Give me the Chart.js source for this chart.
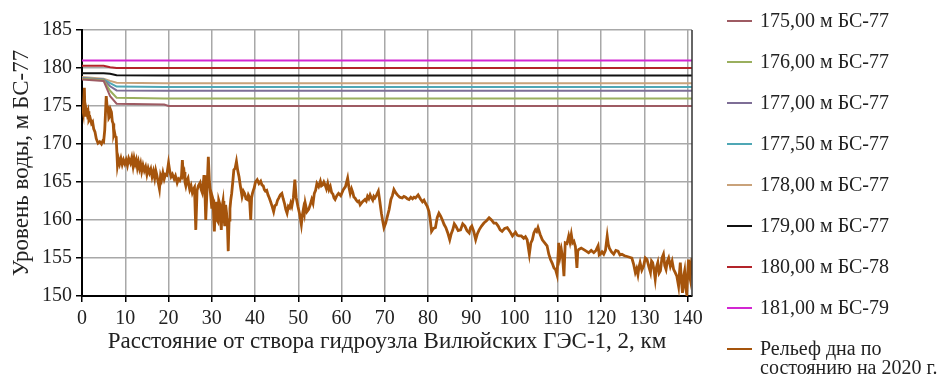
<!DOCTYPE html>
<html><head><meta charset="utf-8">
<script src="https://cdn.jsdelivr.net/npm/chart.js@4.4.1/dist/chart.umd.min.js"></script>
<style>
html,body{margin:0;padding:0;background:#fff;}
#wrap{position:relative;width:944px;height:376px;overflow:hidden;}
#c{position:absolute;left:0;top:0;}
.lg{position:absolute;font-family:"Liberation Serif","Times New Roman",serif;font-size:20px;color:#222;white-space:pre;line-height:18.5px;}
.mk{position:absolute;height:2px;width:25px;}
</style></head><body>
<div id="wrap"><canvas id="c" width="944" height="376"></canvas><div id="legend"></div></div>
<script>
// ---- data ----
const waterKm   = [0, 5, 6.5, 8, 19, 20, 141];
const level175  = [178.5, 178.3, 176.3, 175.3, 175.2, 175.0, 175.0];
const level176  = [178.6, 178.4, 177.0, 176.1, 176.0, 176.0, 176.0];
const level177  = [178.65, 178.45, 177.6, 177.05, 177.0, 177.0, 177.0];
const level1775 = [178.7, 178.5, 178.0, 177.55, 177.5, 177.5, 177.5];
const level178  = [178.8, 178.6, 178.3, 178.05, 178.0, 178.0, 178.0];
const level179  = [179.3, 179.3, 179.25, 179.05, 179.0, 179.0, 179.0];
const level180  = [180.3, 180.3, 180.1, 180.0, 180.0, 180.0, 180.0];
const level181  = [181.0, 181.0, 181.0, 181.0, 181.0, 181.0, 181.0];

const profileKm = [0,0.3,0.55,0.7,0.95,1.2,1.4,1.6,1.9,2.2,2.45,2.7,3.0,3.3,3.7,4.1,4.5,4.8,5.0,5.25,5.6,5.8,6.0,6.2,6.4,6.6,6.8,7.0,7.2,7.35,7.5,7.7,7.9,
8.2,8.45,8.7,9.0,9.3,9.6,9.9,10.2,10.5,10.8,11.2,11.5,11.8,12.05,12.3,12.55,12.8,13.05,13.3,13.55,13.8,14.1,14.4,14.7,15.0,15.3,15.6,15.9,16.2,16.5,16.8,17.05,17.3,17.6,17.9,18.15,18.4,18.7,19.0,19.3,19.6,
20.0,20.3,20.6,20.9,21.3,21.6,22.0,22.3,22.6,23.0,23.2,23.4,23.6,23.8,24.0,24.25,24.5,24.7,24.9,25.2,25.5,25.8,26.0,26.3,26.6,26.9,27.3,27.55,27.8,28.0,28.2,28.4,28.6,28.9,29.2,29.45,29.7,
30.0,30.15,30.3,30.45,30.6,30.8,31.0,31.2,31.4,31.6,31.8,32.0,32.2,32.4,32.6,32.8,33.0,33.2,33.4,33.6,33.8,34.0,34.2,34.4,34.6,34.85,35.1,35.4,35.7,36.0,36.3,36.6,37.0,37.3,37.6,37.9,38.2,38.45,38.7,39.0,39.2,39.4,39.6,39.8,
40.1,40.5,40.9,41.3,41.6,41.9,42.15,42.4,42.7,43.0,43.3,43.6,43.95,44.3,44.6,44.9,45.2,45.5,45.85,46.2,46.5,46.8,47.1,47.4,47.7,48.0,48.25,48.5,48.85,49.2,49.5,49.9,
50.3,50.7,50.95,51.2,51.4,51.6,52.0,52.4,52.75,53.1,53.4,53.7,54.0,54.3,54.7,55.1,55.35,55.6,55.9,56.2,56.5,56.8,57.1,57.4,57.7,58.0,58.25,58.5,58.9,59.3,59.8,
60.4,60.9,61.4,61.7,62.0,62.3,62.6,62.85,63.1,63.4,63.7,64.0,64.3,64.85,65.4,65.7,66.0,66.3,66.6,66.9,67.2,67.45,67.7,68.1,68.5,68.85,69.2,69.5,69.8,
70.2,70.6,71.0,71.4,71.75,72.1,72.5,72.9,73.45,74.0,74.4,74.8,75.2,75.6,76.0,76.4,76.75,77.1,77.4,77.7,78.2,78.7,79.05,79.4,79.8,
80.2,80.5,80.8,81.25,81.7,82.1,82.5,82.9,83.3,83.7,84.1,84.55,85.0,85.35,85.7,86.05,86.4,86.95,87.5,88.0,88.5,89.0,89.5,89.8,
90.1,90.55,91.0,91.4,91.8,92.35,92.9,93.5,94.1,94.65,95.2,95.7,96.2,96.65,97.1,97.7,98.3,98.9,99.5,
100.2,100.6,101.0,101.55,102.1,102.5,102.9,103.4,103.75,104.1,104.45,104.8,105.1,105.4,105.9,106.4,106.95,107.5,107.9,108.3,108.7,109.1,109.45,109.8,
110.2,110.5,110.8,111.1,111.4,111.7,112.1,112.5,112.8,113.1,113.4,113.7,114.05,114.4,114.6,114.8,115.4,116.0,116.55,117.1,117.7,118.3,118.8,119.3,119.55,119.8,
120.2,120.6,121.0,121.4,121.65,121.9,122.4,122.9,123.4,123.9,124.35,124.8,125.4,126.0,126.55,127.1,127.5,127.9,128.2,128.5,128.75,129.0,129.4,129.8,
130.2,130.6,131.0,131.4,131.65,131.9,132.2,132.5,132.8,133.1,133.4,133.7,134.05,134.4,134.7,135.0,135.3,135.6,136.0,136.4,136.75,137.1,137.5,137.9,138.1,138.3,138.55,138.8,139.05,139.3,139.55,139.8,
140.0,140.2,140.4,140.6,140.8,141.0];
const profileLevel = [175.2,174.2,177.4,173.6,174.6,173.9,174.3,173.1,173.4,172.7,172.9,172.0,171.6,170.7,170.1,170.3,170.0,170.4,170.3,171.8,176.3,175.0,174.9,173.4,173.6,174.5,174.2,173.0,172.7,171.3,171.6,171.0,170.9,
167.2,168.0,167.4,168.1,167.3,167.9,167.4,167.9,167.2,168.1,167.5,168.2,167.1,168.1,167.4,167.9,166.9,167.6,166.8,167.4,166.4,167.2,166.5,167.0,166.0,166.8,166.2,166.7,165.7,166.4,165.5,166.5,165.9,165.0,164.1,165.8,165.3,166.2,165.4,166.0,165.9,
167.5,166.4,165.7,166.0,165.4,165.8,164.9,165.4,165.2,165.8,167.9,166.0,166.3,165.0,164.5,165.2,165.5,164.6,164.0,164.5,163.6,164.1,164.3,158.7,163.9,164.5,164.9,164.0,163.6,164.6,165.9,164.0,160.0,164.0,168.3,165.0,163.5,
161.5,163.0,162.7,160.2,158.5,161.5,162.4,160.0,159.8,162.6,162.2,160.3,158.7,161.8,162.5,160.4,159.2,162.0,161.0,159.5,155.9,160.0,161.5,162.7,163.5,165.0,166.6,166.8,167.7,166.5,165.7,164.5,163.1,163.8,163.5,162.8,162.7,163.3,163.0,160.0,162.9,163.5,163.9,164.2,
165.0,165.3,164.8,165.1,164.6,164.5,164.0,163.8,163.9,163.3,162.9,162.4,161.8,161.1,161.9,162.0,162.6,162.9,163.3,163.5,162.8,162.2,161.4,160.9,161.8,161.6,162.2,161.8,162.9,165.3,163.0,161.8,
160.8,159.4,160.7,161.5,160.9,162.2,161.1,161.4,162.0,162.7,162.2,163.5,163.9,164.8,164.4,165.1,164.5,164.6,165.0,164.6,164.1,164.8,164.0,164.4,163.6,163.4,162.9,162.7,163.2,163.5,163.2,
164.0,164.4,165.5,164.3,163.5,164.1,163.6,163.0,162.9,162.6,162.4,162.5,162.0,162.4,162.7,162.5,163.1,162.8,163.3,162.9,162.6,163.1,162.9,163.3,163.8,162.4,160.9,159.9,159.0,
159.6,160.5,161.4,162.7,163.2,164.0,163.6,163.3,163.0,162.9,163.1,163.0,162.8,162.7,163.0,162.8,163.0,162.9,163.1,163.3,162.8,162.4,162.6,162.2,161.8,
161.1,160.0,158.5,158.9,159.0,160.3,160.9,160.5,160.0,159.4,159.0,158.3,157.4,158.2,158.7,159.5,159.2,158.6,158.7,159.5,159.2,158.6,158.3,159.0,
159.2,158.5,157.4,158.2,158.7,159.2,159.6,159.9,160.3,160.0,159.6,159.6,159.2,158.7,158.5,158.9,159.0,158.5,157.9,
158.4,158.0,157.9,157.9,157.6,157.8,157.4,155.5,157.0,157.4,158.3,158.7,158.5,159.0,158.1,157.4,157.0,156.6,155.5,154.8,154.3,153.7,153.5,152.8,
157.0,155.2,156.1,155.0,152.6,157.0,156.9,157.9,157.1,158.1,157.0,157.2,156.5,153.7,155.9,156.1,156.3,156.1,155.9,155.7,156.0,155.7,156.0,156.6,155.4,155.5,
155.8,155.5,156.0,157.9,156.8,156.3,155.8,155.5,156.0,155.9,155.4,155.5,155.3,155.2,155.1,155.0,154.2,153.1,153.6,152.8,153.8,154.4,153.4,153.9,
155.0,154.8,153.9,153.1,154.6,154.4,153.5,152.2,153.8,154.4,153.0,153.3,155.0,155.5,154.0,153.5,154.6,155.0,153.9,154.6,153.5,153.1,152.6,151.3,153.0,154.4,152.0,150.4,152.5,153.3,151.0,150.2,
153.0,154.8,152.8,152.2,154.3,155.0];

const seriesLabels = ['175,00 м БС-77','176,00 м БС-77','177,00 м БС-77','177,50 м БС-77','178,00 м БС-77','179,00 м БС-77','180,00 м БС-78','181,00 м БС-79','Рельеф дна по\nсостоянию на 2020 г.'];
const xTicksStep = 10, yTicksStep = 5;

// ---- styles ----
const colors = ['#9E5B63','#9AAF5E','#7E6E96','#4FA7B5','#C9A27A','#111111','#B3242A','#D226D2','#A5540C'];
const waterLevels = [level175, level176, level177, level1775, level178, level179, level180, level181];

const toPts = (xs, ys) => xs.map((x, i) => ({x: x, y: ys[i]}));
const datasets = waterLevels.map((lv, i) => ({
  label: seriesLabels[i], data: toPts(waterKm, lv), borderColor: colors[i],
  borderWidth: 2, pointRadius: 0, fill: false, tension: 0
}));
datasets.push({label: seriesLabels[8], data: toPts(profileKm, profileLevel), borderColor: colors[8],
  borderWidth: 2.8, pointRadius: 0, fill: false, tension: 0});

const SERIF = '"Liberation Serif", "Times New Roman", serif';
const rightBorder = {
  id: 'rightBorder',
  afterDatasetsDraw(chart) {
    const {ctx, chartArea: a} = chart;
    ctx.save(); ctx.strokeStyle = '#333'; ctx.lineWidth = 1.5;
    ctx.beginPath(); ctx.moveTo(a.right, a.top); ctx.lineTo(a.right, a.bottom); ctx.stroke();
    ctx.restore();
  }
};

const chart = new Chart(document.getElementById('c'), {
  type: 'line',
  data: {datasets: datasets},
  plugins: [rightBorder],
  options: {
    responsive: false, animation: false,
    layout: {padding: {left: 0, right: 252, top: 30, bottom: 0}},
    plugins: {legend: {display: false}, tooltip: {enabled: false}},
    scales: {
      x: {type: 'linear', min: 0, max: 141,
        ticks: {stepSize: xTicksStep, includeBounds: false, maxRotation: 0, color: '#222', padding: 5,
                font: {family: SERIF, size: 20}},
        grid: {color: '#A8A8A8', lineWidth: 1.5, tickLength: 6, tickColor: '#000'},
        border: {color: '#000', width: 2},
        title: {display: true, text: 'Расстояние от створа гидроузла Вилюйских ГЭС-1, 2, км', color: '#222',
                font: {family: SERIF, size: 23}, padding: {top: 0, bottom: 20}},
        afterFit(s) { s.height = 80; }
      },
      y: {min: 150, max: 185,
        ticks: {stepSize: yTicksStep, color: '#222', padding: 4, font: {family: SERIF, size: 20}},
        grid: {color: '#A8A8A8', lineWidth: 1.5, tickLength: 6, tickColor: '#000'},
        border: {color: '#000', width: 2},
        title: {display: true, text: 'Уровень воды, м БС-77', color: '#222',
                font: {family: SERIF, size: 23}, padding: {top: 8, bottom: 0}},
        afterFit(s) { s.width = 82; }
      }
    }
  }
});

// ---- HTML legend built from datasets ----
const lg = document.getElementById('legend');
chart.data.datasets.forEach((ds, i) => {
  const cy = 20.7 + 41 * i;
  const mk = document.createElement('div');
  mk.className = 'mk'; mk.style.left = '727px'; mk.style.top = (cy - 1) + 'px';
  mk.style.background = ds.borderColor;
  lg.appendChild(mk);
  const t = document.createElement('div');
  t.className = 'lg'; t.style.left = '760px'; t.style.top = (cy - 9.25) + 'px';
  t.textContent = ds.label;
  lg.appendChild(t);
});
</script>
</body></html>
